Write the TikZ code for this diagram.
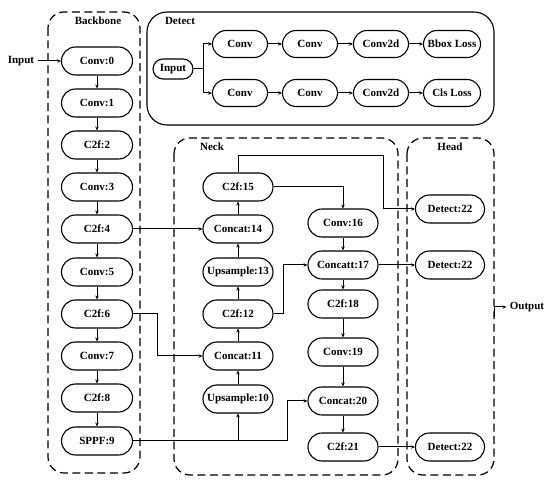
\documentclass[tikz,border=0pt]{standalone}
\usepackage{fontspec}
\setmainfont{Liberation Serif}
\usetikzlibrary{arrows.meta}
\begin{document}
\begin{tikzpicture}[x=1pt,y=-1pt]
  \tikzset{blk/.style={draw,rectangle,rounded corners=14pt,minimum width=71pt,minimum height=28pt,inner sep=1pt,line width=1.1pt,font=\bfseries\fontsize{11}{12}\selectfont}}
  \tikzset{dblk/.style={blk,minimum width=55pt,minimum height=27pt,rounded corners=13.5pt}}
  \tikzset{grp/.style={dash pattern=on 8pt off 4.5pt,line width=1.2pt,rounded corners=16pt}}
  \tikzset{arr/.style={-{Stealth[length=4pt,width=3.5pt]},line width=1pt}}
  \tikzset{lbl/.style={font=\bfseries\fontsize{11}{12}\selectfont}}
  \useasboundingbox (0,0) rectangle (550,484);
  % group frames
  \draw[grp] (48,12) rectangle (140,473);
  \draw[line width=1.1pt,rounded corners=20pt] (147,12) rectangle (494,125);
  \draw[grp] (174,138) rectangle (398,475);
  \draw[grp] (407,138) rectangle (494,475);
  \node[lbl] (tbb) at (98,21) {Backbone};
  \node[lbl] (tdt) at (180,21) {Detect};
  \node[lbl] (tnk) at (212,147) {Neck};
  \node[lbl] (thd) at (450,147) {Head};
  % backbone
  \node[lbl] (in) at (21,61) {Input};
  \node[blk] (conv0) at (97,61) {Conv:0};
  \node[blk] (conv1) at (97,103) {Conv:1};
  \node[blk] (c2) at (97,145) {C2f:2};
  \node[blk] (conv3) at (97,187) {Conv:3};
  \node[blk] (c4) at (97,229) {C2f:4};
  \node[blk] (conv5) at (97,272) {Conv:5};
  \node[blk] (c6) at (97,314) {C2f:6};
  \node[blk] (conv7) at (97,356) {Conv:7};
  \node[blk] (c8) at (97,398) {C2f:8};
  \node[blk] (sppf) at (97,441) {SPPF:9};
  \draw[arr] (in)--(conv0);
  \draw[arr] (conv0)--(conv1); \draw[arr] (conv1)--(c2); \draw[arr] (c2)--(conv3);
  \draw[arr] (conv3)--(c4); \draw[arr] (c4)--(conv5); \draw[arr] (conv5)--(c6);
  \draw[arr] (c6)--(conv7); \draw[arr] (conv7)--(c8); \draw[arr] (c8)--(sppf);
  % detect head detail
  \node[blk,minimum width=40pt,minimum height=20pt,rounded corners=10pt] (din) at (173,69) {Input};
  \node[dblk] (dc1) at (240,44) {Conv};
  \node[dblk] (dc2) at (310,44) {Conv};
  \node[dblk] (dc3) at (381,44) {Conv2d};
  \node[dblk,minimum width=57pt] (bbox) at (452,44) {Bbox Loss};
  \node[dblk] (dc4) at (240,93) {Conv};
  \node[dblk] (dc5) at (310,93) {Conv};
  \node[dblk] (dc6) at (381,93) {Conv2d};
  \node[dblk,minimum width=57pt] (cls) at (452,93) {Cls Loss};
  \draw[arr] (din.east) -- ++(10,0) |- (dc1.west);
  \draw[arr] (din.east) -- ++(10,0) |- (dc4.west);
  \draw[arr] (dc1)--(dc2); \draw[arr] (dc2)--(dc3); \draw[arr] (dc3)--(bbox);
  \draw[arr] (dc4)--(dc5); \draw[arr] (dc5)--(dc6); \draw[arr] (dc6)--(cls);
  % neck
  \node[blk,minimum width=70pt] (c15) at (238,187) {C2f:15};
  \node[blk,minimum width=70pt] (cat14) at (238,229) {Concat:14};
  \node[blk,minimum width=70pt] (up13) at (238,272) {Upsample:13};
  \node[blk,minimum width=70pt] (c12) at (238,314) {C2f:12};
  \node[blk,minimum width=70pt] (cat11) at (238,356) {Concat:11};
  \node[blk,minimum width=70pt] (up10) at (238,399) {Upsample:10};
  \node[blk,minimum width=70pt] (conv16) at (343,223) {Conv:16};
  \node[blk,minimum width=70pt] (cat17) at (343,265) {Concatt:17};
  \node[blk,minimum width=70pt] (c18) at (343,304) {C2f:18};
  \node[blk,minimum width=70pt] (conv19) at (343,352) {Conv:19};
  \node[blk,minimum width=70pt] (cat20) at (343,401) {Concat:20};
  \node[blk,minimum width=70pt] (c21) at (343,447) {C2f:21};
  \draw[arr] (up10)--(cat11); \draw[arr] (cat11)--(c12); \draw[arr] (c12)--(up13);
  \draw[arr] (up13)--(cat14); \draw[arr] (cat14)--(c15);
  \draw[arr] (conv16)--(cat17); \draw[arr] (cat17)--(c18); \draw[arr] (c18)--(conv19);
  \draw[arr] (conv19)--(cat20); \draw[arr] (cat20)--(c21);
  \draw[arr] (c4)--(cat14);
  \draw[arr] (c6.east) -- ++(24.5,0) |- (cat11.west);
  \draw[arr] (sppf.east) -- ++(154.5,0) |- (cat20.west);
  \draw[arr] (sppf.east -| up10.south) -- (up10.south);
  \draw[arr] (c12.east) -- ++(10,0) |- (cat17.west);
  \draw[arr] (c15.east) -| (conv16.north);
  % head
  \node[blk,minimum width=69pt] (det1) at (450,209) {Detect:22};
  \node[blk,minimum width=69pt] (det2) at (450,265) {Detect:22};
  \node[blk,minimum width=69pt] (det3) at (450,447) {Detect:22};
  \draw[arr] (c15.north) -- ++(0,-17) -- ++(145,0) |- (det1.west);
  \draw[arr] (cat17)--(det2);
  \draw[arr] (c21)--(det3);
  \node[lbl] (out) at (527,307) {Output};
  \coordinate (hd) at (494,317);
  \draw[arr] (hd) |- (out.west);
\end{tikzpicture}
\end{document}
